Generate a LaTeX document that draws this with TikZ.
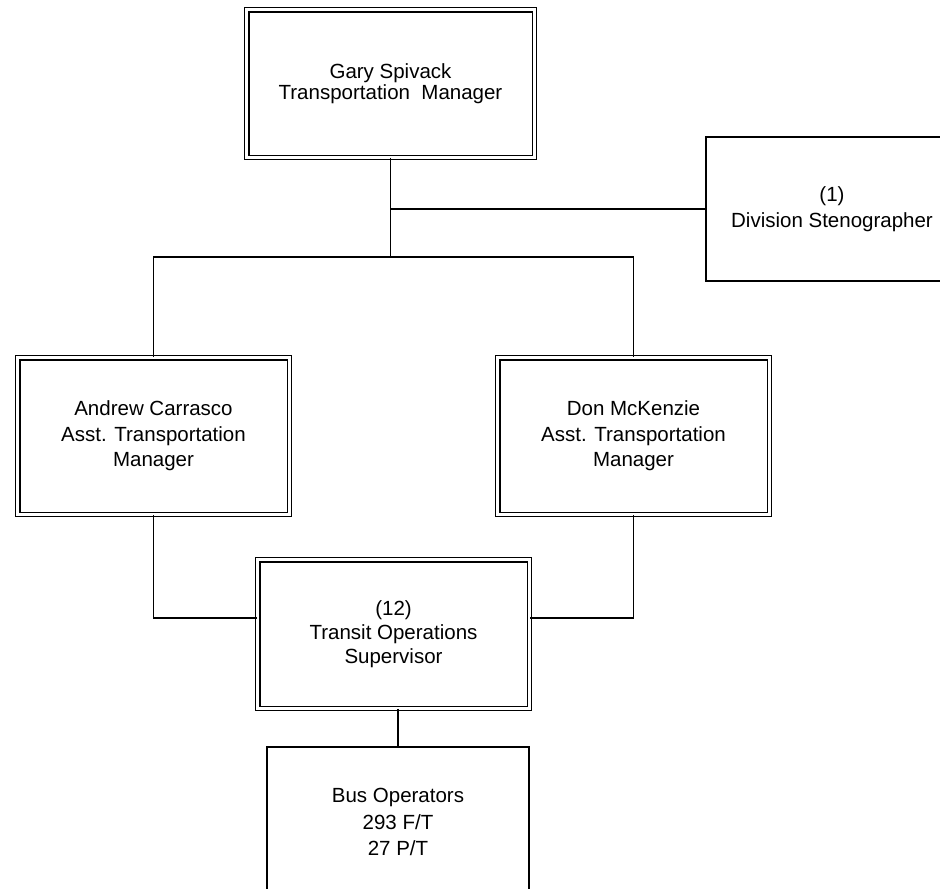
\documentclass[tikz,border=0pt]{standalone}
\usepackage{fontspec}
\setmainfont{Liberation Sans}
\usepackage{tikz}
\usetikzlibrary{calc,positioning}
\tikzset{
    chart box/.style={
        draw,line width=1.4pt,
        fill=white,align=center,inner sep=0pt,
        font=\fontsize{20.5}{24}\selectfont
    },
    double box/.style={
        chart box,double=white,double distance=2.7pt,
        minimum width=271.5pt,minimum height=156.5pt
    },
    link/.style={line width=1.4pt}
}
\begin{document}
\begin{tikzpicture}[x=1pt,y=-1pt]
\clip (0,0) rectangle (940,889);
\node[double box,minimum width=287.5pt,minimum height=147.5pt,
      font=\fontsize{20.5}{21}\selectfont] (gary) at (390.5,83.5)
      {Gary Spivack\\Transportation\ \ Manager};
\node[chart box,minimum width=252pt,minimum height=144pt,
      font=\fontsize{20.5}{26}\selectfont] (steno) at (832,209)
      {(1)\\Division Stenographer};
\foreach \name/\who/\x in {andrew/Andrew Carrasco/153.5,don/Don McKenzie/633.5}
    \node[double box,font=\fontsize{20.5}{25.5}\selectfont] (\name) at (\x,436)
        {\who\\Asst. Transportation\\Manager};
\node[double box,minimum height=148.5pt] (sup) at (393.5,634)
    {(12)\\Transit Operations\\Supervisor};
\node[chart box,minimum width=262pt,minimum height=150pt,
      font=\fontsize{20.5}{26.5}\selectfont] (bus) at (398,822)
    {Bus Operators\\293 F/T\\27 P/T};
\coordinate (split) at (390.5,257);
\draw[link] (gary.south) -- (split);
\draw[link] (gary.south |- steno.west) -- (steno.west);
\draw[link] (andrew.north) |- (split) -| (don.north);
\draw[link] (andrew.south) |- ([yshift=16pt]sup.west);
\draw[link] (don.south) |- ([yshift=16pt]sup.east);
\draw[link] (sup.south -| bus.north) -- (bus.north);
\end{tikzpicture}
\end{document}
